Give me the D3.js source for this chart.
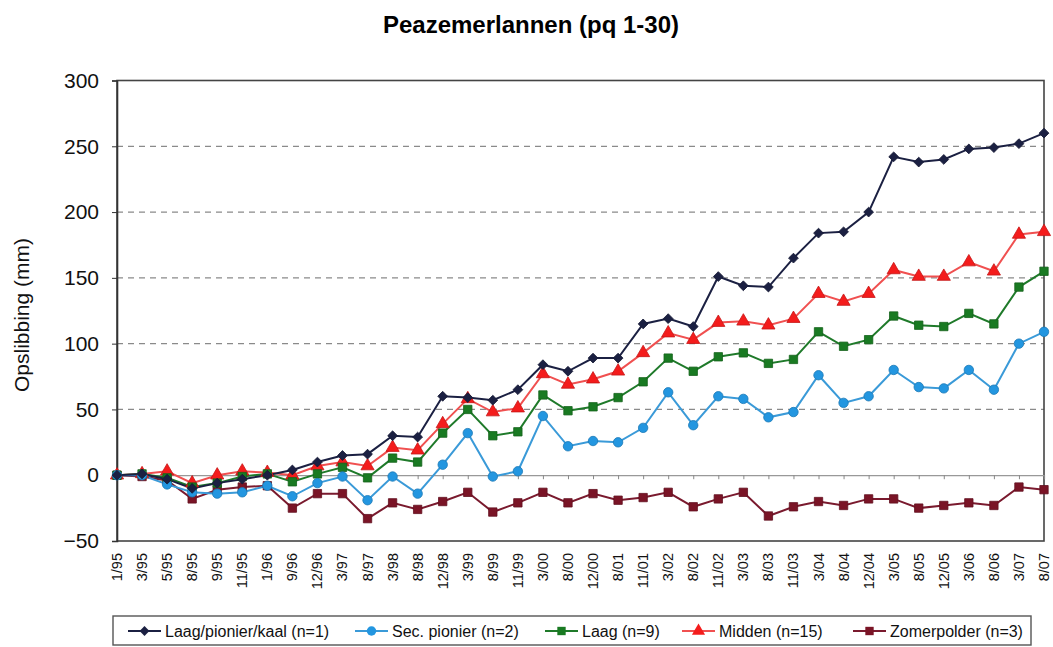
<!DOCTYPE html>
<html><head><meta charset="utf-8">
<script src="https://cdn.jsdelivr.net/npm/d3@7"></script>
<style>body{margin:0;background:#fff;} svg{display:block;font-family:"Liberation Sans",Arial,sans-serif;}</style>
</head><body><svg id="c" width="1053" height="647"></svg>
<script>
const categories = ["1/95","3/95","5/95","8/95","9/95","11/95","1/96","9/96","12/96","3/97","8/97","3/98","8/98","12/98","3/99","8/99","11/99","3/00","8/00","12/00","8/01","11/01","3/02","8/02","11/02","3/03","8/03","11/03","3/04","8/04","12/04","3/05","8/05","12/05","3/06","8/06","3/07","8/07"];
const laagPionierKaal = [0,1,-3,-10,-6,-3,0,4,10,15,16,30,29,60,59,57,65,84,79,89,89,115,119,113,151,144,143,165,184,185,200,242,238,240,248,249,252,260];
const secPionier = [0,0,-7,-13,-14,-13,-8,-16,-6,-1,-19,-1,-14,8,32,-1,3,45,22,26,25,36,63,38,60,58,44,48,76,55,60,80,67,66,80,65,100,109];
const laag = [0,1,-2,-9,-6,-1,1,-5,1,6,-2,13,10,32,50,30,33,61,49,52,59,71,89,79,90,93,85,88,109,98,103,121,114,113,123,115,143,155];
const midden = [0,1,3,-6,0,3,2,0,7,10,7,21,19,39,58,48,51,77,69,73,79,93,108,103,116,117,114,119,138,132,138,156,151,151,162,155,183,185];
const zomerpolder = [0,-1,-4,-18,-11,-9,-8,-25,-14,-14,-33,-21,-26,-20,-13,-28,-21,-13,-21,-14,-19,-17,-13,-24,-18,-13,-31,-24,-20,-23,-18,-18,-25,-23,-21,-23,-9,-11];
const yTicks = [-50,0,50,100,150,200,250,300];
const seriesNames = ["Laag/pionier/kaal (n=1)","Sec. pionier (n=2)","Laag (n=9)","Midden (n=15)","Zomerpolder (n=3)"];

const series = [
  {name:seriesNames[0], values:laagPionierKaal, color:"#1b2042", line:"#1b2042", sym:d3.symbolSquare, size:48, rot:45},
  {name:seriesNames[1], values:secPionier, color:"#2396e0", line:"#3a9ad8", sym:d3.symbolCircle, size:70, rot:0},
  {name:seriesNames[2], values:laag, color:"#197a22", line:"#1f7a2a", sym:d3.symbolSquare, size:70, rot:0},
  {name:seriesNames[3], values:midden, color:"#f41c1c", line:"#f05050", sym:d3.symbolTriangle, size:75, rot:0},
  {name:seriesNames[4], values:zomerpolder, color:"#7a1426", line:"#7a1a2e", sym:d3.symbolSquare, size:70, rot:0}
];

const svg = d3.select("#c");
const L=117, R=1044, T=80.5, B=541;
const x = d3.scalePoint().domain(categories).range([L,R]);
const y = d3.scaleLinear().domain([-50,300]).range([B,T]);

// title
svg.append("text").attr("x",531).attr("y",33).attr("text-anchor","middle")
  .attr("font-size",24).attr("font-weight","bold").text("Peazemerlannen (pq 1-30)");

// gridlines
svg.append("g").selectAll("line").data(yTicks.filter(d=>d!==-50 && d!==300 && d!==0)).join("line")
  .attr("x1",L).attr("x2",R).attr("y1",d=>y(d)).attr("y2",d=>y(d))
  .attr("stroke","#8a8a8a").attr("stroke-width",1.3).attr("stroke-dasharray","6,5");

// plot border
svg.append("rect").attr("x",L).attr("y",T).attr("width",R-L).attr("height",B-T)
  .attr("fill","none").attr("stroke","#444").attr("stroke-width",1.6);

// y axis
const yAxis = d3.axisLeft(y).tickValues(yTicks).tickSize(5).tickPadding(13);
const gy = svg.append("g").attr("transform",`translate(${L},0)`).call(yAxis);
gy.select(".domain").attr("stroke","#333").attr("stroke-width",1.6);
gy.selectAll(".tick line").attr("stroke","#333");
gy.selectAll("text").attr("font-size",21).attr("fill","#111").attr("font-family","Liberation Sans, Arial, sans-serif");

// x axis at zero
const xAxis = d3.axisBottom(x).tickSize(4).tickFormat("");
const gx = svg.append("g").attr("transform",`translate(0,${y(0)})`).call(xAxis);
gx.select(".domain").attr("stroke","#999").attr("stroke-width",1.2);
gx.selectAll(".tick line").attr("stroke","#888");

// x labels (low position)
svg.append("g").selectAll("text").data(categories).join("text")
  .attr("transform",d=>`translate(${x(d)+5},${B+12}) rotate(-90)`)
  .attr("text-anchor","end").attr("font-size",14.5).attr("fill","#111").text(d=>d);

// y axis title
svg.append("text").attr("transform","translate(29,315) rotate(-90)").attr("text-anchor","middle")
  .attr("font-size",21).attr("fill","#111").text("Opslibbing (mm)");

// lines and markers
const line = d3.line().x((d,i)=>x(categories[i])).y(d=>y(d));
series.slice().reverse().forEach(s=>{
  svg.append("path").datum(s.values).attr("d",line).attr("fill","none")
    .attr("stroke",s.line).attr("stroke-width",2);
});
series.slice().reverse().forEach(s=>{
  const sym = d3.symbol().type(s.sym).size(s.size);
  svg.append("g").selectAll("path").data(s.values).join("path")
    .attr("transform",(d,i)=>`translate(${x(categories[i])},${y(d)}) rotate(${s.rot})`)
    .attr("d",sym).attr("fill",s.color).attr("stroke",d3.color(s.color).darker(0.6)).attr("stroke-width",0.8);
});

// legend
const lg = svg.append("g");
lg.append("rect").attr("x",113).attr("y",616).attr("width",918).attr("height",29)
  .attr("fill","#fff").attr("stroke","#555").attr("stroke-width",1.4);
const lx = [128,355,545,682,853];
series.forEach((s,i)=>{
  const g = lg.append("g").attr("transform",`translate(${lx[i]},631)`);
  g.append("line").attr("x1",0).attr("x2",33).attr("stroke",s.line).attr("stroke-width",2);
  g.append("path").attr("transform",`translate(16.5,0) rotate(${s.rot})`).attr("d",d3.symbol().type(s.sym).size(s.size)())
    .attr("fill",s.color);
  g.append("text").attr("x",37).attr("y",5.5).attr("font-size",16).attr("fill","#111").text(s.name);
});
</script></body></html>
